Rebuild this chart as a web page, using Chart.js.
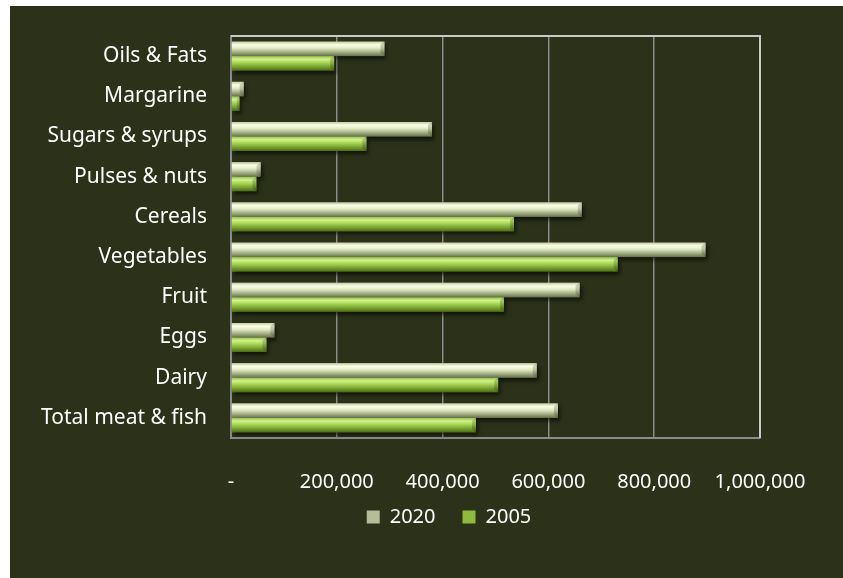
<!DOCTYPE html>
<html>
<head>
<meta charset="utf-8">
<script src="https://cdn.jsdelivr.net/npm/chart.js@4/dist/chart.umd.min.js"></script>
<style>
	html, body { margin: 0; padding: 0; background: #ffffff; overflow: hidden; width: 100%; height: 100%; }
	#card { position: absolute; left: 10px; top: 6px; right: 0; bottom: 0; background: #2b3219; overflow: hidden; }
	canvas { display: block; }
</style>
</head>
<body>
<div id="card"><canvas id="myBarChart" width="833" height="572"></canvas></div>
<script>
// Données
const categories = ['Oils & Fats', 'Margarine', 'Sugars & syrups', 'Pulses & nuts', 'Cereals', 'Vegetables', 'Fruit', 'Eggs', 'Dairy', 'Total meat & fish'];
const values2020 = [290000, 24000, 380000, 56000, 663000, 897000, 659000, 82000, 578000, 618000];
const values2005 = [195000, 16000, 256000, 48000, 535000, 731000, 516000, 67000, 505000, 463000];
const seriesNames = ['2020', '2005'];
const xTicks = [0, 200000, 400000, 600000, 800000, 1000000];

// Dégradés des barres (effet relief)
const barStops = [
	[[0, '#c4cea4'], [0.22, '#fbffe6'], [0.45, '#e2eac4'], [0.78, '#98a47a'], [1, '#66714c']],
	[[0, '#97bf4c'], [0.22, '#d0f38a'], [0.45, '#a9d555'], [0.78, '#719a2a'], [1, '#4e6b1a']]
];

const gradientBars = {
	id: 'gradientBars',
	afterLayout(chart) {
		// légende décalée comme dans l'original
		const lg = chart.legend;
		lg.left += 59; lg.right += 59;
		lg.top -= 20; lg.bottom -= 20;
	},
	afterDatasetsDraw(chart) {
		const ctx = chart.ctx;
		chart.data.datasets.forEach((ds, di) => {
			const meta = chart.getDatasetMeta(di);
			meta.data.forEach(bar => {
				const left = Math.min(bar.base, bar.x);
				const w = Math.abs(bar.x - bar.base);
				const top = bar.y - bar.height / 2;
				const h = bar.height;
				const g = ctx.createLinearGradient(0, top, 0, top + h);
				barStops[di].forEach(s => g.addColorStop(s[0], s[1]));
				ctx.save();
				ctx.shadowColor = 'rgba(0,0,0,0.6)';
				ctx.shadowBlur = 4;
				ctx.shadowOffsetX = 2;
				ctx.shadowOffsetY = 3;
				ctx.fillStyle = g;
				ctx.fillRect(left, top, w, h);
				ctx.restore();
				// biseau en bout de barre
				ctx.save();
				ctx.fillStyle = 'rgba(0,0,0,0.18)';
				ctx.beginPath();
				ctx.moveTo(left + w, top);
				ctx.lineTo(left + w, top + h);
				ctx.lineTo(left + w - Math.min(4, w / 3), top + h - 3);
				ctx.lineTo(left + w - Math.min(4, w / 3), top + 3);
				ctx.closePath();
				ctx.fill();
				ctx.restore();
			});
		});
	},
	afterDraw(chart) {
		const a = chart.chartArea;
		const ctx = chart.ctx;
		ctx.save();
		ctx.strokeStyle = '#c8c8c8';
		ctx.lineWidth = 2;
		ctx.beginPath();
		ctx.moveTo(a.left, a.top);
		ctx.lineTo(a.right, a.top);
		ctx.lineTo(a.right, a.bottom);
		ctx.stroke();
		ctx.restore();
	}
};

const ctx = document.getElementById('myBarChart').getContext('2d');
const myBarChart = new Chart(ctx, {
	type: 'bar',
	data: {
		labels: categories,
		datasets: [{
			label: seriesNames[0],
			data: values2020,
			backgroundColor: '#b4bd98',
			borderWidth: 0
		}, {
			label: seriesNames[1],
			data: values2005,
			backgroundColor: '#8cbb3e',
			borderWidth: 0
		}]
	},
	options: {
		indexAxis: 'y',
		responsive: false,
		animation: false,
		layout: { padding: { left: 10, right: 83, top: 30, bottom: 21 } },
		categoryPercentage: 0.72,
		barPercentage: 1.0,
		scales: {
			x: {
				min: 0,
				max: 1000000,
				afterFit: scale => { scale.height = 62; },
				afterBuildTicks: scale => { scale.ticks = xTicks.map(v => ({ value: v })); },
				grid: { color: '#8c8c8c', lineWidth: 1.5, drawTicks: false },
				border: { color: '#8c8c8c', width: 2 },
				ticks: {
					color: '#ffffff',
					padding: 32,
					font: { family: 'Noto Sans', size: 20 },
					callback: v => v === 0 ? '-' : v.toLocaleString('en-US')
				}
			},
			y: {
				afterFit: scale => {
					scale.width = 211;
					scale.paddingTop = 0;
					scale.paddingBottom = 0;
				},
				grid: { display: false, drawTicks: false },
				border: { color: '#8c8c8c', width: 2 },
				ticks: {
					color: '#ffffff',
					padding: 24,
					font: { family: 'Noto Sans', size: 21 }
				}
			}
		},
		plugins: {
			legend: {
				position: 'bottom',
				labels: {
					color: '#ffffff',
					boxWidth: 13,
					boxHeight: 13,
					padding: 27,
					font: { family: 'Noto Sans', size: 20 }
				}
			},
			tooltip: { enabled: false }
		}
	},
	plugins: [gradientBars]
});
</script>
</body>
</html>
